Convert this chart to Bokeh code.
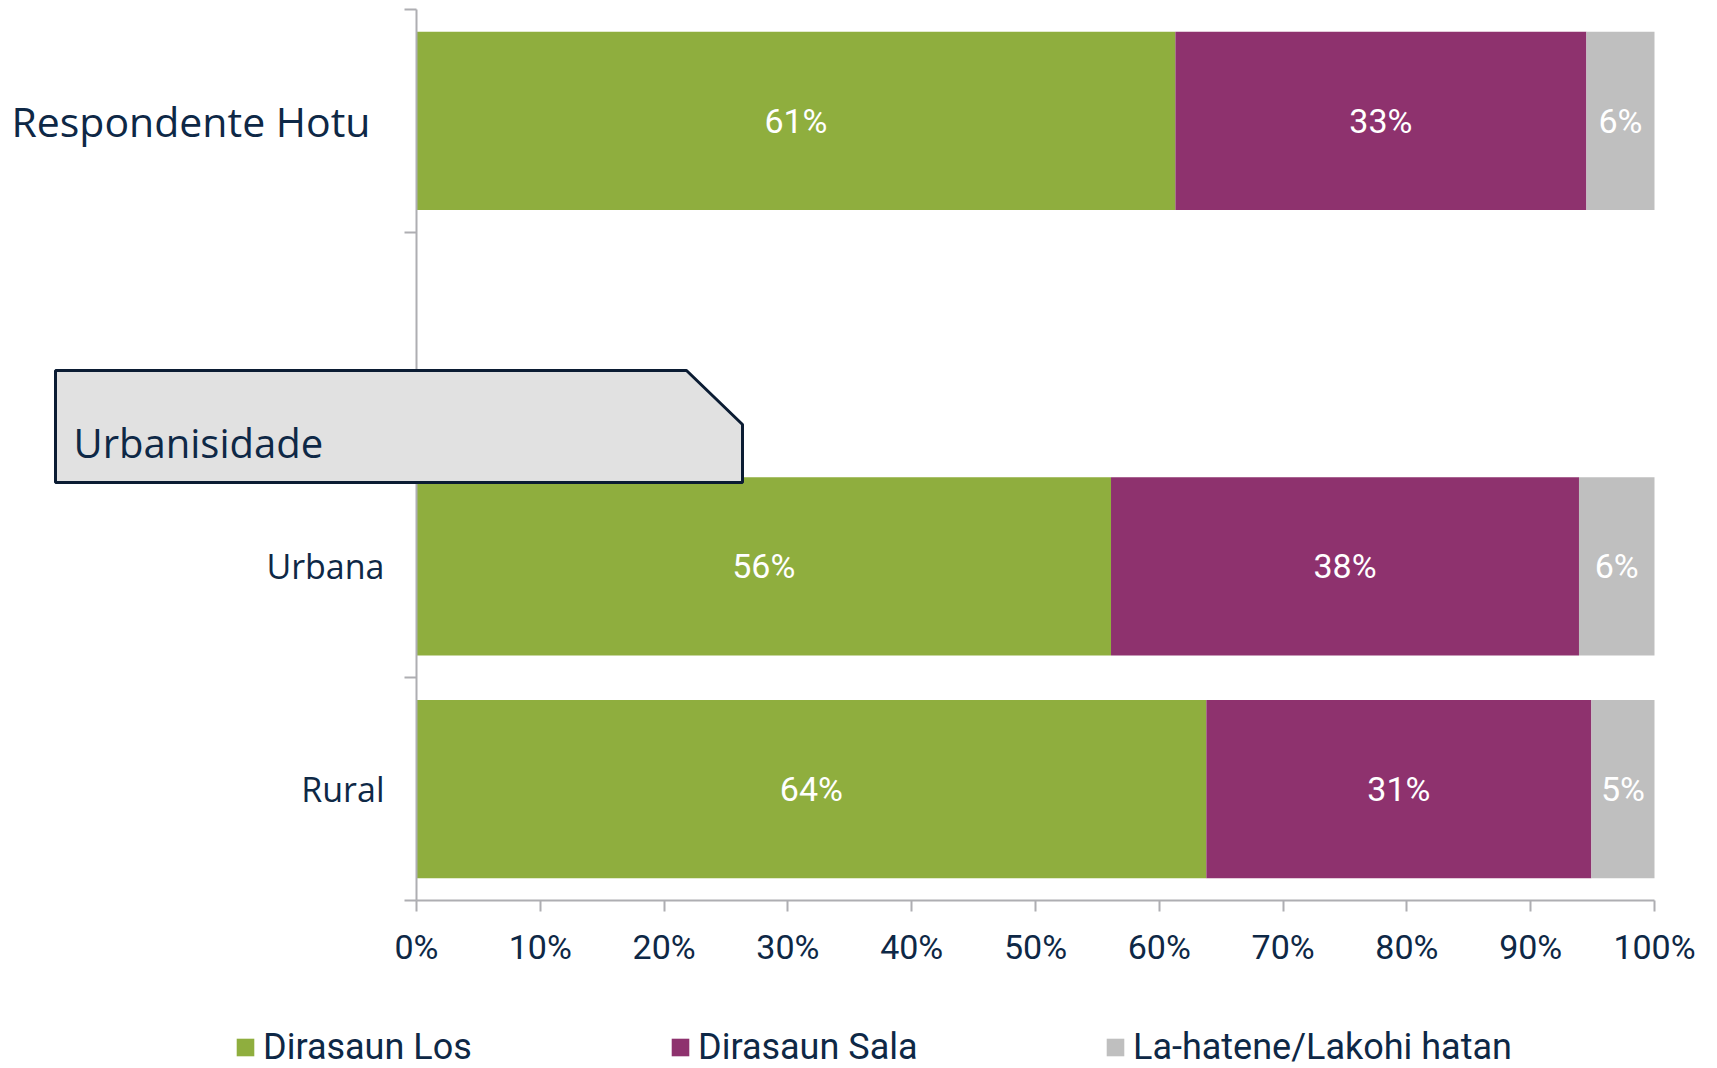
import numpy as np
from bokeh.plotting import figure
from bokeh.models import (ColumnDataSource, FixedTicker, PrintfTickFormatter, Label,
                          PolyAnnotation, Legend, LegendItem, Range1d)
from bokeh.core.properties import value
from bokeh.embed import file_html
from bokeh.resources import INLINE

# ---------------- data ----------------
rows = ["Respondente Hotu", "Urbanisidade", "Urbana", "Rural"]   # top to bottom
categories = ["Respondente Hotu", "Urbana", "Rural"]
series_names = ["Dirasaun Los", "Dirasaun Sala", "La-hatene/Lakohi hatan"]
dirasaun_los = [61.3, 56.1, 63.8]
dirasaun_sala = [33.2, 37.8, 31.1]
la_hatene = [5.5, 6.1, 5.1]
x_ticks = [0, 10, 20, 30, 40, 50, 60, 70, 80, 90, 100]

colors = ["#8FAE3E", "#8E326E", "#BFBFBF"]
NAVY = "#0E2846"
AXIS_GREY = "#AEAEB2"
NUM = "Roboto"
REG = "Open Sans"

# ---------------- layout (pixel box of the bar area) ----------------
W, H = 1717, 1068
AL, AT, AW, AH = 416, 9, 1238, 891
n_rows = len(rows)

def ypos(name):
    return n_rows - 1 - rows.index(name) + 0.5

def px_x(px):
    return (px - AL) / AW * 100.0

def px_y(py):
    return n_rows - (py - AT) / AH * n_rows

src = ColumnDataSource(dict(
    y=[ypos(c) for c in categories],
    los=dirasaun_los, sala=dirasaun_sala, nhat=la_hatene,
))

p = figure(width=W, height=H,
           x_range=Range1d(px_x(0), px_x(W)), y_range=Range1d(px_y(H), px_y(0)),
           output_backend="svg", toolbar_location=None,
           min_border=0, min_border_left=0, min_border_right=0,
           min_border_top=0, min_border_bottom=0)
p.outline_line_color = None
p.xgrid.visible = False
p.ygrid.visible = False
p.background_fill_color = "white"
p.border_fill_color = "white"

renderers = p.hbar_stack(["los", "sala", "nhat"], y="y", height=0.8, color=colors,
                         line_color=None, source=src)

# data labels
vals = np.array([dirasaun_los, dirasaun_sala, la_hatene]).T
cum = np.cumsum(vals, axis=1)
starts = cum - vals
lx, ly, lt = [], [], []
for i, c in enumerate(categories):
    for j in range(vals.shape[1]):
        lx.append((starts[i, j] + cum[i, j]) / 2)
        ly.append(ypos(c))
        lt.append("%d%%" % int(np.floor(vals[i, j] + 0.5)))
p.text(x=lx, y=ly, text=lt, text_color="white", text_align="center",
       text_baseline="middle", text_font=value(NUM), text_font_size="34px")

# x axis, fixed at y = 0
xa = p.xaxis[0]
xa.fixed_location = 0
xa.bounds = (0, 100)
xa.ticker = FixedTicker(ticks=x_ticks, minor_ticks=[])
xa.formatter = PrintfTickFormatter(format="%d%%")
xa.axis_line_color = AXIS_GREY
xa.axis_line_width = 2
xa.major_tick_line_color = AXIS_GREY
xa.major_tick_line_width = 2
xa.major_tick_out = 11
xa.major_tick_in = 0
xa.minor_tick_line_color = None
xa.major_label_text_font = NUM
xa.major_label_text_font_size = "34px"
xa.major_label_text_color = NAVY
xa.major_label_standoff = 15

# y axis, fixed at x = 0
ya = p.yaxis[0]
ya.fixed_location = 0
ya.bounds = (0, n_rows)
ya.ticker = FixedTicker(ticks=[ypos("Urbana"), ypos("Rural")],
                        minor_ticks=list(range(0, n_rows + 1)))
ya.major_label_overrides = {ypos("Urbana"): "Urbana", ypos("Rural"): "Rural"}
ya.axis_line_color = AXIS_GREY
ya.axis_line_width = 2
ya.major_tick_line_color = None
ya.major_tick_out = 0
ya.major_tick_in = 0
ya.minor_tick_line_color = AXIS_GREY
ya.minor_tick_line_width = 2
ya.minor_tick_out = 12
ya.minor_tick_in = 0
ya.major_label_text_font = REG
ya.major_label_text_font_size = "34px"
ya.major_label_text_color = NAVY
ya.major_label_standoff = 20

# top-level category label
p.add_layout(Label(x=px_x(11), y=ypos("Respondente Hotu"), text="Respondente Hotu",
                   text_font=REG, text_font_size="41px", text_color=NAVY,
                   text_align="left", text_baseline="middle"))

# section header box
bx0, bx1, bxc = px_x(55), px_x(742), px_x(686)
by0, by1, byc = px_y(370), px_y(482), px_y(424)
box = PolyAnnotation(xs=[bx0, bxc, bx1, bx1, bx0], ys=[by0, by0, byc, by1, by1],
                     fill_color="#E1E1E1", fill_alpha=1.0, line_color="#0B1C33",
                     line_alpha=1.0, line_width=3, level="overlay")
p.add_layout(box)
p.add_layout(Label(x=px_x(73), y=px_y(442), text="Urbanisidade",
                   text_font=REG, text_font_size="40px", text_color=NAVY,
                   text_align="left", text_baseline="middle", level="overlay"))

# legend
legend = Legend(items=[LegendItem(label=n, renderers=[r]) for n, r in zip(series_names, renderers)],
                location=(234, 0), orientation="horizontal",
                glyph_width=22, glyph_height=22, label_standoff=7, label_width=380,
                spacing=26, padding=0, margin=0, border_line_alpha=0,
                background_fill_alpha=0, label_text_font=NUM,
                label_text_font_size="36px", label_text_color=NAVY)
p.add_layout(legend, "center")

open("out.html", "w").write(file_html(p, INLINE))
